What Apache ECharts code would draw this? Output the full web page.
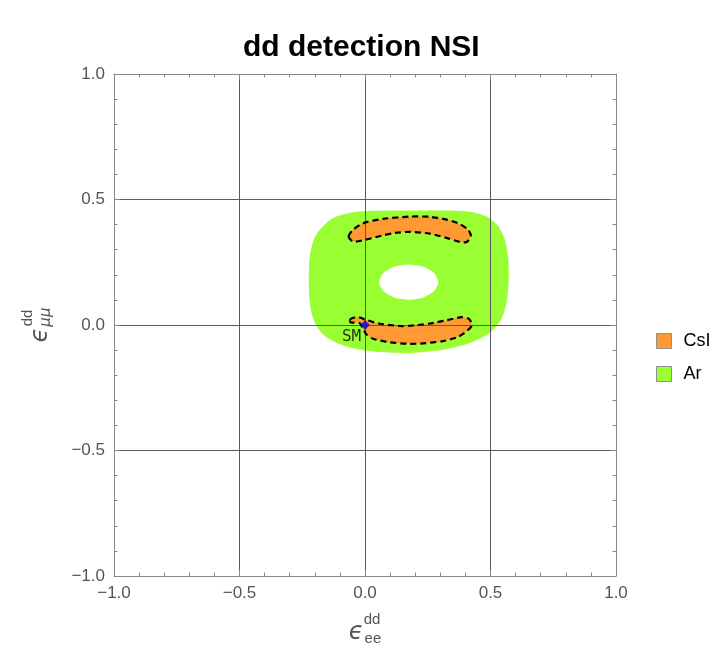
<!DOCTYPE html>
<html>
	<head>
		<meta charset="UTF-8">
		<title>dd detection NSI</title>
		<script type="text/javascript" src="https://cdn.jsdelivr.net/npm/echarts@6/dist/echarts.min.js"></script>
		<style>
			html, body { margin: 0; padding: 0; background: #fff; }
			#main { width: 720px; height: 650px; }
		</style>
	</head>
	<body>
		<div id="main"></div>
		<script>
			// 外轮廓 Ar (绿色)
			var arOutline = [
				[0.006, 0.454], [0.179, 0.456], [0.330, 0.456], [0.418, 0.451], [0.484, 0.432],
				[0.531, 0.393], [0.557, 0.340], [0.570, 0.273], [0.573, 0.194], [0.566, 0.101],
				[0.544, 0.025], [0.498, -0.031], [0.418, -0.072], [0.311, -0.099], [0.179, -0.112],
				[0.032, -0.106], [-0.060, -0.090], [-0.120, -0.068], [-0.165, -0.040], [-0.195, 0.000],
				[-0.213, 0.048], [-0.222, 0.114], [-0.224, 0.194], [-0.220, 0.273], [-0.204, 0.340],
				[-0.173, 0.388], [-0.127, 0.426], [-0.061, 0.447]
			];
			// Ar 中间的空洞
			var arHole = [
				[0.292, 0.171], [0.276, 0.206], [0.233, 0.232], [0.174, 0.241], [0.115, 0.232],
				[0.072, 0.206], [0.056, 0.171], [0.072, 0.136], [0.115, 0.110], [0.174, 0.101],
				[0.233, 0.110], [0.276, 0.136]
			];
			// CsI 上方区域
			var csiUpper = [
				[-0.065, 0.352], [-0.050, 0.377], [-0.020, 0.399], [0.006, 0.410], [0.072, 0.423],
				[0.179, 0.432], [0.258, 0.431], [0.325, 0.420], [0.378, 0.402], [0.411, 0.379],
				[0.422, 0.353], [0.405, 0.331], [0.378, 0.331], [0.325, 0.347], [0.258, 0.364],
				[0.179, 0.371], [0.120, 0.367], [0.072, 0.357], [0.006, 0.341], [-0.047, 0.332]
			];
			// CsI 下方区域
			var csiLower = [
				[-0.061, 0.020], [-0.040, 0.031], [-0.020, 0.030], [0.006, 0.020], [0.059, 0.005],
				[0.139, -0.004], [0.179, -0.003], [0.258, 0.006], [0.325, 0.019], [0.385, 0.031],
				[0.415, 0.024], [0.425, -0.003], [0.398, -0.030], [0.365, -0.050], [0.311, -0.064],
				[0.232, -0.073], [0.179, -0.075], [0.099, -0.069], [0.032, -0.055], [0.006, -0.038],
				[-0.008, -0.014], [-0.022, 0.008], [-0.055, 0.010]
			];
			var smPoint = [[0, 0]];
			var axisTicks = [-1, -0.5, 0, 0.5, 1];

			var chart = echarts.init(document.getElementById('main'));

			var orange = '#FF9933';
			var green = '#99FF33';
			var gray = '#888888';
			var labelColor = '#555555';

			function fmt(v) {
				return (v < 0 ? '\u2212' : '') + Math.abs(v).toFixed(1);
			}

			// 画一个多边形区域
			function shape(name, pts, fill, z, z2, outline) {
				return {
					type: 'custom',
					name: name,
					silent: true,
					z: z,
					itemStyle: { color: fill },
					data: [0],
					renderItem: function (params, api) {
						var p = pts.map(function (d) { return api.coord(d); });
						var style = outline
							? { fill: 'none', stroke: '#000', lineWidth: 2.2, lineDash: [6, 4] }
							: { fill: fill };
						return {
							type: 'polygon',
							z2: z2,
							shape: { points: p, smooth: 0.25 },
							style: style
						};
					}
				};
			}

			function axisBase(pos, show) {
				return {
					type: 'value',
					position: pos,
					min: axisTicks[0],
					max: axisTicks[axisTicks.length - 1],
					interval: 0.5,
					axisLine: { show: true, onZero: false, lineStyle: { color: gray, width: 1 } },
					axisTick: { show: true, inside: true, length: 6, lineStyle: { color: gray } },
					minorTick: { show: true, splitNumber: 5, length: 3.5, lineStyle: { color: gray } },
					splitLine: { show: show, lineStyle: { color: '#5a5a5a', width: 1 } },
					axisLabel: {
						show: show,
						formatter: fmt,
						color: labelColor,
						fontSize: 17,
						fontFamily: 'Liberation Sans',
						margin: 9
					}
				};
			}

			var nameRich = {
				sup: { fontSize: 15, color: labelColor, fontFamily: 'Liberation Sans', padding: [0, 0, 0, 14], lineHeight: 13 },
				eps: { fontSize: 24, color: labelColor, fontFamily: 'DejaVu Sans', fontStyle: 'italic', padding: [0, 1, 6, 0], lineHeight: 20 },
				sub: { fontSize: 15, color: labelColor, fontFamily: 'Liberation Sans', verticalAlign: 'bottom', lineHeight: 15 },
				subi: { fontSize: 15, color: labelColor, fontFamily: 'DejaVu Sans', fontStyle: 'italic', verticalAlign: 'bottom', lineHeight: 15 }
			};

			var xBottom = axisBase('bottom', true);
			xBottom.name = '{sup|dd}\n{eps|\u03f5}{sub|ee}';
			xBottom.nameLocation = 'middle';
			xBottom.nameGap = 37;
			xBottom.nameTextStyle = { rich: nameRich };

			var yLeft = axisBase('left', true);
			yLeft.name = '{sup|dd}\n{eps|\u03f5}{subi|\u03bc\u03bc}';
			yLeft.nameLocation = 'middle';
			yLeft.nameRotate = 90;
			yLeft.nameGap = 60;
			yLeft.nameTextStyle = { rich: nameRich };

			var option = {
				backgroundColor: '#fff',
				animation: false,
				title: {
					text: 'dd detection NSI',
					left: 243,
					top: 33,
					padding: 0,
					textStyle: { fontSize: 30, fontWeight: 'bold', color: '#000', fontFamily: 'Liberation Sans' }
				},
				legend: {
					orient: 'vertical',
					left: 656,
					top: 332,
					padding: 0,
					itemWidth: 15,
					itemHeight: 15,
					itemGap: 15,
					icon: 'rect',
					data: ['CsI', 'Ar'],
					itemStyle: { borderColor: '#8f8f8f', borderWidth: 1 },
					textStyle: { fontSize: 18, color: '#000', fontFamily: 'Liberation Sans', padding: [0, 0, 0, 7] }
				},
				grid: { left: 114, right: 104, top: 74, bottom: 74, outerBoundsMode: 'none', containLabel: false },
				xAxis: [xBottom, axisBase('top', false)],
				yAxis: [yLeft, axisBase('right', false)],
				series: [
					shape('Ar', arOutline, green, -1, 1, false),
					shape('hole', arHole, '#ffffff', -1, 2, false),
					shape('CsI', csiUpper, orange, -1, 3, false),
					shape('CsI', csiLower, orange, -1, 3, false),
					shape('outline1', csiUpper, '#000', 5, 1, true),
					shape('outline2', csiLower, '#000', 5, 1, true),
					{
						type: 'scatter',
						name: 'SM',
						z: 6,
						data: smPoint,
						symbol: 'diamond',
						symbolSize: 9,
						itemStyle: { color: '#0000ff', borderColor: '#00007a', borderWidth: 0.5 },
						label: {
							show: true,
							formatter: 'SM',
							position: [1, 17],
							align: 'right',
							verticalAlign: 'middle',
							color: '#000',
							fontSize: 16,
							fontFamily: 'DejaVu Sans Mono'
						}
					}
				]
			};

			chart.setOption(option);
		</script>
	</body>
</html>
